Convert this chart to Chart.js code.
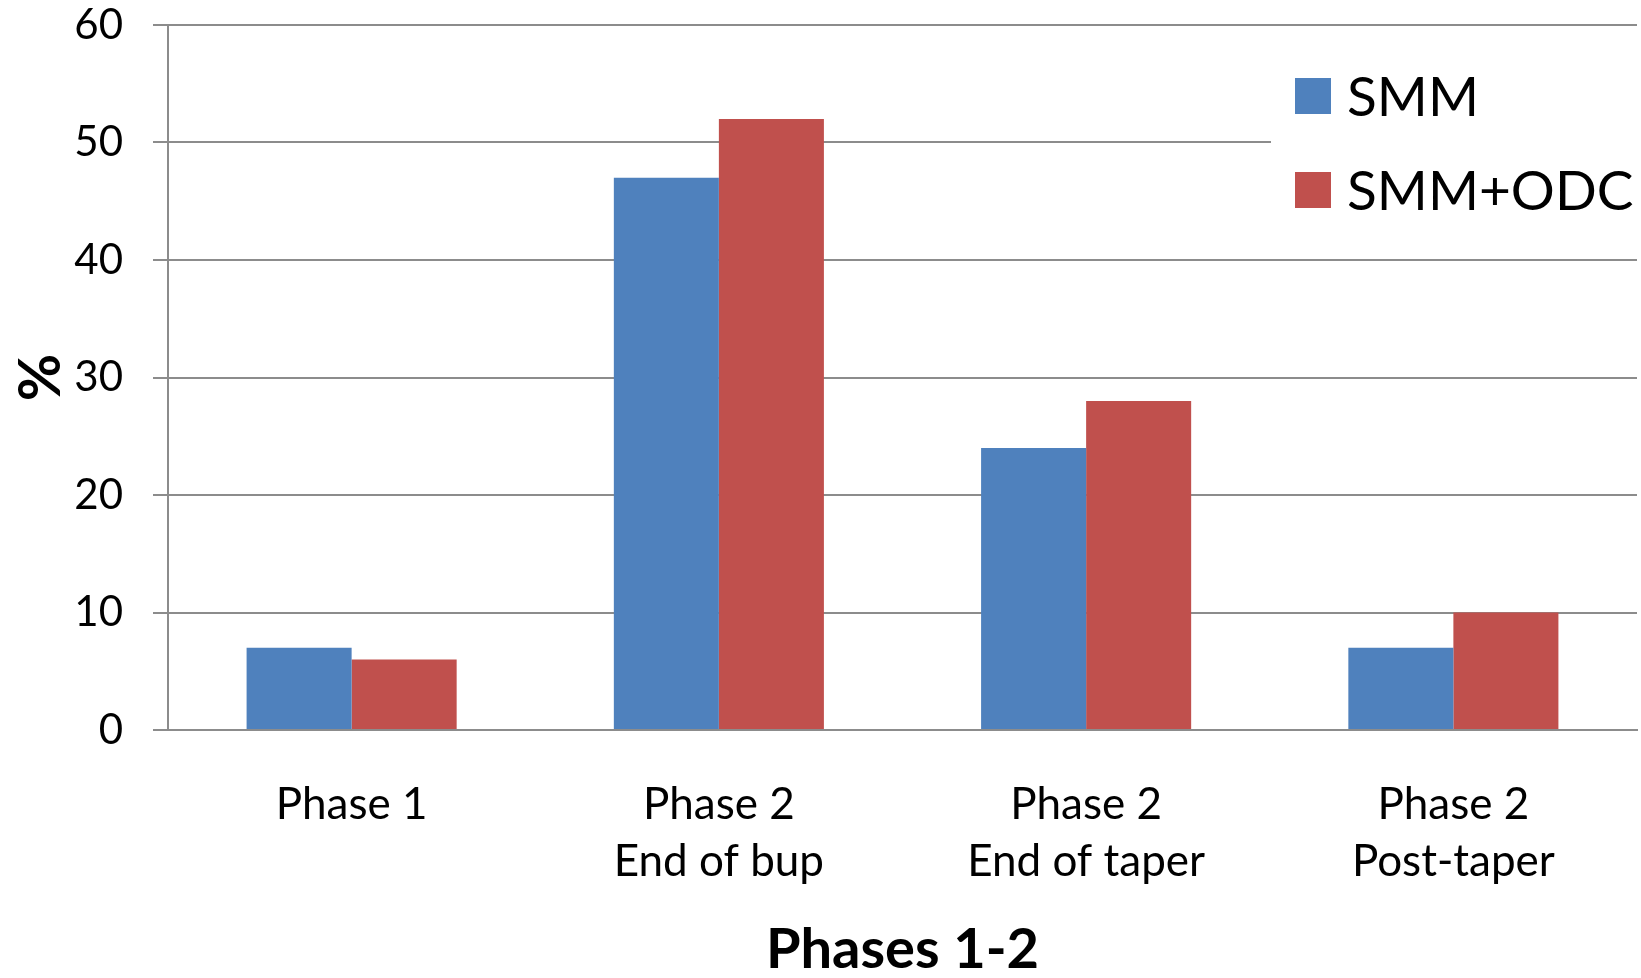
<!DOCTYPE html>
<html lang="en">
<head>
  <meta charset="UTF-8">
  <title>Phases 1-2</title>
  <script src="https://cdn.jsdelivr.net/npm/chart.js"></script>
  <style>
    html, body { margin: 0; padding: 0; background: #fff; }
    #wrap { width: 1641px; height: 978px; }
  </style>
</head>
<body>
  <div id="wrap"><canvas id="phaseChart"></canvas></div>
  <script>
    // Data
    const categories = [['Phase 1'], ['Phase 2', 'End of bup'], ['Phase 2', 'End of taper'], ['Phase 2', 'Post-taper']];
    const smm = [7, 47, 24, 7];
    const smmOdc = [6, 52, 28, 10];
    const yTicks = [0, 10, 20, 30, 40, 50, 60];

    const FONT = 'Lato, "Open Sans", sans-serif';
    const GRID = '#8c8c8c';

    // Legend drawn inside the plot, on a white box (like the original)
    const insideLegend = {
      id: 'insideLegend',
      afterDraw(chart) {
        const ctx = chart.ctx;
        const x0 = 1271, y0 = 52;
        ctx.save();
        ctx.fillStyle = '#fff';
        ctx.fillRect(x0, y0, chart.width - x0, 180);
        ctx.font = '55px ' + FONT;
        ctx.textBaseline = 'middle';
        chart.data.datasets.forEach((ds, i) => {
          const cy = 96 + i * 94;
          ctx.fillStyle = ds.backgroundColor;
          ctx.fillRect(1295, cy - 18, 36, 36);
          ctx.fillStyle = '#000';
          ctx.fillText(ds.label, 1347, cy + 2);
        });
        ctx.restore();
      }
    };

    const ctx = document.getElementById('phaseChart').getContext('2d');
    new Chart(ctx, {
      type: 'bar',
      data: {
        labels: categories,
        datasets: [
          { label: 'SMM', data: smm, backgroundColor: '#4f81bd' },
          { label: 'SMM+ODC', data: smmOdc, backgroundColor: '#c0504d' }
        ]
      },
      options: {
        responsive: true,
        maintainAspectRatio: false,
        animation: false,
        layout: { padding: { top: 25, right: 4, left: 0, bottom: 0 } },
        plugins: {
          legend: { display: false },
          tooltip: { enabled: false }
        },
        datasets: {
          bar: { categoryPercentage: 0.572, barPercentage: 1.0 }
        },
        scales: {
          x: {
            grid: { display: false, drawTicks: false },
            border: { display: true, color: GRID, width: 2 },
            ticks: {
              color: '#000',
              font: { family: FONT, size: 44, lineHeight: 1.3 },
              padding: 46,
              maxRotation: 0
            },
            title: {
              display: true,
              text: 'Phases 1-2',
              color: '#000',
              font: { family: FONT, size: 56, weight: 'bold' },
              padding: { top: 0, bottom: -6 }
            },
            afterFit(scale) { scale.height = 248; }
          },
          y: {
            min: 0,
            max: 60,
            afterBuildTicks(scale) { scale.ticks = yTicks.map(v => ({ value: v })); },
            grid: { color: GRID, lineWidth: 2, tickLength: 15 },
            border: { display: true, color: GRID, width: 2 },
            ticks: {
              color: '#000',
              font: { family: FONT, size: 42 },
              padding: 30
            },
            title: {
              display: true,
              text: '%',
              color: '#000',
              font: { family: FONT, size: 58, weight: 'bold' },
              padding: { top: 6, bottom: 0 }
            },
            afterFit(scale) {
              scale.width = 168;
              scale.paddingTop = 0;
              scale.paddingBottom = 0;
            }
          }
        }
      },
      plugins: [insideLegend]
    });
  </script>
</body>
</html>
